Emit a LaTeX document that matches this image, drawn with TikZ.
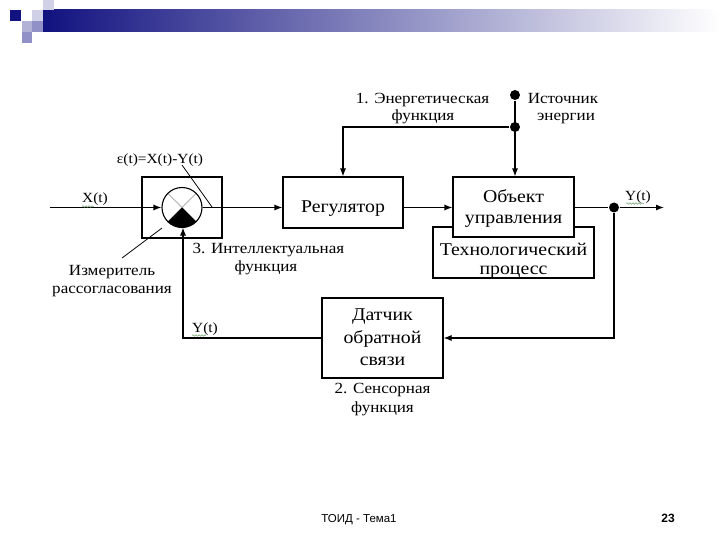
\documentclass[tikz,border=0pt]{standalone}
\usepackage{fontspec}
\setmainfont{Liberation Serif}[FakeStretch=1.1]
\newfontfamily\footfont{Liberation Sans}
\usetikzlibrary{arrows.meta,decorations.pathmorphing,calc}
\definecolor{navyc}{RGB}{18,18,128}
\definecolor{lavA}{RGB}{208,208,230}
\definecolor{lavB}{RGB}{178,178,215}
\definecolor{lavC}{RGB}{145,145,200}
\definecolor{squig}{RGB}{110,165,110}
\begin{document}
\begin{tikzpicture}[x=1pt,y=-1pt,
  line width=1.1pt,
  arr/.style={-{Latex[length=8pt,width=6pt]}},
  box/.style={draw, line width=1.1pt, fill=white, inner sep=0pt},
  lbl/.style={font=\fontsize{15.5}{18}\selectfont, inner sep=0pt, anchor=base},
  small/.style={font=\fontsize{14}{16}\selectfont, inner sep=0pt, anchor=base},
  btxt/.style={font=\fontsize{18}{21}\selectfont, inner sep=0pt, anchor=base},
  dot/.style={circle, fill=black, inner sep=0pt, minimum size=10pt},
  wavy/.style={draw=squig, line width=0.5pt, decorate, decoration={snake, amplitude=0.8pt, segment length=3pt}}
]
\useasboundingbox (0,0) rectangle (720,540);
\fill[white] (0,0) rectangle (720,540);
% header
\shade[left color=navyc, right color=white] (43,10) rectangle (720,32);
\fill[navyc] (10,10) rectangle (21,21);
\fill[lavA] (32,10) rectangle (43,21);
\fill[lavA] (43,0) rectangle (54,10);
\fill[lavB] (22,21) rectangle (32,32);
\fill[lavC] (22,32) rectangle (32,43);
\fill[lavC] (32,21) rectangle (43,32);

% comparator
\node[box, minimum width=80, minimum height=61] (cmp) at (182,207.5) {};
\coordinate (cc) at (182,207.5);
\draw[gray!60, line width=0.9pt] ($(cc)+(-14.1,-14.1)$) -- ($(cc)+(14.1,14.1)$);
\draw[gray!60, line width=0.9pt] ($(cc)+(14.1,-14.1)$) -- ($(cc)+(-14.1,14.1)$);
\begin{scope}
  \clip (cc) circle[radius=20];
  \fill (cc) -- ++(30,30) -- ++(-60,0) -- cycle;
\end{scope}
\node[circle, draw, minimum size=40, inner sep=0pt] (circ) at (cc) {};

% boxes
\node[box, minimum width=120, minimum height=51] (reg) at (343,202.5) {};
\node[box, minimum width=161, minimum height=51] (tech) at (513.5,252.5) {};
\node[box, minimum width=121, minimum height=60] (obj) at (513.5,207) {};
\node[box, minimum width=121, minimum height=80] (dat) at (382.5,338) {};

\node[btxt] (regt) at (343,212.7) {Регулятор};
\node[btxt] (objt1) at (513.5,202.5) {Объект};
\node[btxt] (objt2) at (513.5,223.5) {управления};
\node[btxt] (techt1) at (513.5,255) {Технологический};
\node[btxt] (techt2) at (513.5,274) {процесс};
\node[btxt] (datt1) at (382.5,320) {Датчик};
\node[btxt] (datt2) at (382.5,343) {обратной};
\node[btxt] (datt3) at (382.5,365) {связи};

% coordinates and dots
\coordinate (xin) at (50,207.5);
\node[dot] (od) at (614,207.5) {};
\coordinate (yout) at (664,207.5);
\node[dot] (es) at (515,95) {};
\node[dot] (ej) at (515,127) {};
\coordinate (fb1) at (614,338);
\coordinate (fb2) at (183,338);
\coordinate (fbin) at (183,227.5);
\coordinate (ecorner) at (343,127);
\coordinate (el1) at (182,165);
\coordinate (el2) at (212,207);
\coordinate (ml1) at (122,258);
\coordinate (ml2) at (162,228);

% connectors
\draw[arr] (xin) -- (circ.west);
\draw[arr] (circ.east) -- (circ.east -| reg.west);
\draw[arr] (circ.east -| reg.east) -- (circ.east -| obj.west);
\draw (circ.east -| obj.east) -- (od);
\draw[arr] (od) -- (yout);
\draw[arr] (od) -- (fb1) -- (dat.east);
\draw[arr] (dat.west) -- (fb2) -- (fbin);
\draw[arr] (es) -- (es |- obj.north);
\draw[arr] (ej) -- (ecorner) -- (reg.north);
\draw[line width=0.8pt] (el1) -- (el2);
\draw[line width=0.8pt] (ml1) -- (ml2);

% labels
\node[small] (xl) at (95,203) {X(t)};
\draw[wavy] (82,206.5) -- (94,206.5);
\node[small] (el) at (160,164) {ε(t)=X(t)-Y(t)};
\node[lbl] (mt1) at (112,275) {Измеритель};
\node[lbl] (mt2) at (112,293) {рассогласования};
\node[lbl, anchor=base west] (it1) at (192,254) {3. Интеллектуальная};
\node[lbl] (it2) at (266,271) {функция};
\node[lbl] (en1) at (422.5,104) {1. Энергетическая};
\node[lbl] (en2) at (423,121) {функция};
\node[lbl] (src1) at (563,104) {Источник};
\node[lbl] (src2) at (566,121) {энергии};
\node[small] (yl) at (638,201) {Y(t)};
\draw[wavy] (626,203.5) -- (644,203.5);
\node[small] (yfl) at (205,332) {Y(t)};
\draw[wavy] (192,335.5) -- (206,335.5);
\node[lbl] (sn1) at (382.5,393) {2. Сенсорная};
\node[lbl] (sn2) at (382.5,412) {функция};

% footer
\node[font=\footfont\fontsize{11.5}{13}\selectfont, inner sep=0pt, anchor=base] (ft) at (359,522) {ТОИД - Тема1};
\node[font=\footfont\bfseries\fontsize{12}{14}\selectfont, inner sep=0pt, anchor=base] (pg) at (668,522) {23};
\end{tikzpicture}
\end{document}
